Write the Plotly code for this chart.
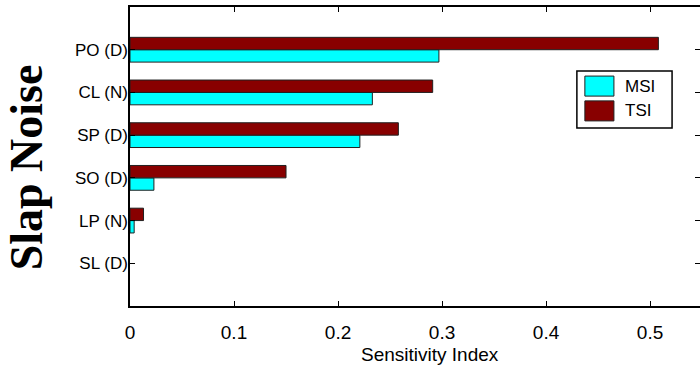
import plotly.graph_objects as go

# Sensitivity indices per parameter (bottom to top on the chart)
categories = ["SL (D)", "LP (N)", "SO (D)", "SP (D)", "CL (N)", "PO (D)"]
msi = [0.0, 0.004, 0.023, 0.221, 0.233, 0.297]
tsi = [0.0, 0.013, 0.150, 0.258, 0.291, 0.508]
x_ticks = [0, 0.1, 0.2, 0.3, 0.4, 0.5]
x_tick_labels = ["0", "0.1", "0.2", "0.3", "0.4", "0.5"]

MSI_COLOR = "#00FFFF"
TSI_COLOR = "#880000"
EDGE = "#202020"
SANS = "Liberation Sans, Arial, sans-serif"
SERIF = "Liberation Serif, Times New Roman, serif"


def edge_widths(values):
    # zero-length bars get no outline so nothing is drawn for them
    return [0 if v == 0 else 1 for v in values]


fig = go.Figure()
fig.add_trace(go.Bar(
    y=categories, x=msi, orientation="h", name="MSI",
    marker=dict(color=MSI_COLOR, line=dict(color=EDGE, width=edge_widths(msi))),
    showlegend=False,
))
fig.add_trace(go.Bar(
    y=categories, x=tsi, orientation="h", name="TSI",
    marker=dict(color=TSI_COLOR, line=dict(color=EDGE, width=edge_widths(tsi))),
    showlegend=False,
))
# invisible trace just to carry the right-hand tick marks
fig.add_trace(go.Scatter(x=[None], y=[None], yaxis="y2", showlegend=False))

fig.update_layout(
    width=700, height=369,
    margin=dict(l=130, r=0, t=7, b=63),
    paper_bgcolor="white", plot_bgcolor="white",
    barmode="group", bargap=0.42, bargroupgap=0,
    xaxis=dict(
        range=[0, 0.548], tickvals=x_ticks, ticktext=x_tick_labels,
        ticks="inside", ticklen=5, tickcolor="black", tickwidth=1,
        showline=True, linecolor="black", linewidth=1.5, mirror="ticks",
        showgrid=False, zeroline=False,
        tickfont=dict(family=SANS, size=19, color="black"),
        ticklabelstandoff=8,
    ),
    yaxis=dict(
        type="category", categoryorder="array", categoryarray=categories,
        range=[-1, len(categories)],
        ticks="inside", ticklen=5, tickcolor="black", tickwidth=1,
        showline=True, linecolor="black", linewidth=1.5,
        showgrid=False, zeroline=False,
        tickfont=dict(family=SANS, size=17, color="black"),
        ticklabelstandoff=-3,
    ),
    yaxis2=dict(
        overlaying="y", side="right", matches="y", type="category",
        categoryorder="array", categoryarray=categories,
        showticklabels=False, showline=False, showgrid=False, zeroline=False,
        ticks="inside", ticklen=5, tickcolor="black", tickwidth=1,
        tickvals=categories,
    ),
    showlegend=False,
)

# big rotated row title
fig.add_annotation(
    text="<b>Slap Noise</b>", xref="paper", yref="paper",
    x=-0.18, y=0.465, xanchor="center", yanchor="middle",
    textangle=-90, showarrow=False,
    font=dict(family=SERIF, size=46, color="black"),
)
# x-axis title
fig.add_annotation(
    text="Sensitivity Index", xref="paper", yref="paper",
    x=0.526, y=-0.161, xanchor="center", yanchor="middle",
    showarrow=False, font=dict(family=SANS, size=19, color="black"),
)

# legend box
fig.add_shape(type="rect", xref="paper", yref="paper",
              x0=0.784, x1=0.951, y0=0.595, y1=0.786,
              line=dict(color="black", width=1.5), fillcolor="white")
for name, color, y0, y1 in [("MSI", MSI_COLOR, 0.702, 0.769),
                            ("TSI", TSI_COLOR, 0.619, 0.686)]:
    fig.add_shape(type="rect", xref="paper", yref="paper",
                  x0=0.798, x1=0.849, y0=y0, y1=y1,
                  line=dict(color=EDGE, width=1), fillcolor=color)
    fig.add_annotation(text=name, xref="paper", yref="paper",
                       x=0.865, y=(y0 + y1) / 2, xanchor="left", yanchor="middle",
                       showarrow=False,
                       font=dict(family=SANS, size=17, color="black"))

fig.write_html("out.html")
